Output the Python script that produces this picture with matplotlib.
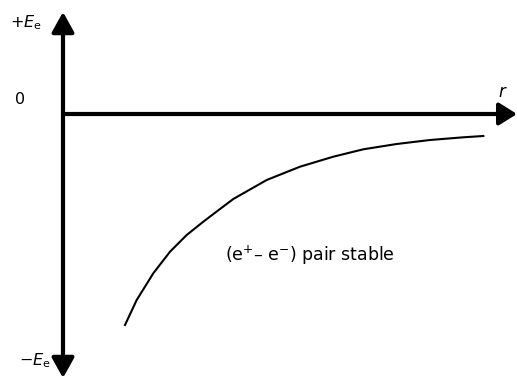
import matplotlib
matplotlib.use('Agg')
import matplotlib.pyplot as plt

# curve values (r, energy) in arbitrary units
r_vals = [0.62, 0.737, 0.903, 1.07, 1.237, 1.403, 1.57, 1.703, 2.037, 2.37,
          2.703, 3.003, 3.337, 3.67, 4.003, 4.203]
E_vals = [-2.11, -1.86, -1.593, -1.377, -1.21, -1.077, -0.95, -0.85, -0.66, -0.527,
          -0.427, -0.353, -0.30, -0.26, -0.233, -0.22]

label_curve = '(e$^{+}$\u2013 e$^{-}$) pair stable'

fig = plt.figure(figsize=(5.17, 3.78), dpi=100)
ax = fig.add_axes([0, 0, 1, 1])
ax.set_xlim(-0.63, 4.54)
ax.set_ylim(-2.64, 1.14)
ax.axis('off')

# axes arrows
arr = dict(arrowstyle='<|-|>,head_length=0.45,head_width=0.25', lw=3, color='k',
           mutation_scale=27, shrinkA=0, shrinkB=0)
ax.annotate('', xy=(0, 1.02), xytext=(0, -2.64), arrowprops=arr)
arr2 = dict(arrowstyle='-|>,head_length=0.4,head_width=0.25', lw=3, color='k',
            mutation_scale=27, shrinkA=0, shrinkB=0)
ax.annotate('', xy=(4.54, 0), xytext=(0, 0), arrowprops=arr2)

# potential curve
ax.plot(r_vals, E_vals, color='k', lw=1.5, solid_joinstyle='round')

# labels
ax.text(-0.53, 0.91, '+$E_{\\rm e}$', fontsize=11.5, va='center', ha='left')
ax.text(-0.48, 0.14, '0', fontsize=11.5, va='center', ha='left')
ax.text(-0.44, -2.47, '\u2212$E_{\\rm e}$', fontsize=11.5, va='center', ha='left')
ax.text(4.35, 0.22, '$r$', fontsize=12, va='center', ha='left')
ax.text(1.62, -1.41, label_curve, fontsize=12.5, va='center', ha='left')

fig.savefig('out.png', dpi=100)
